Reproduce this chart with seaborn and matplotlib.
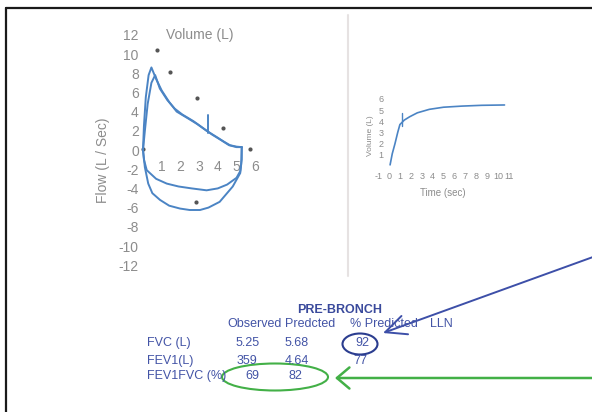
import matplotlib.pyplot as plt
import seaborn as sns
from matplotlib.patches import Ellipse, FancyArrowPatch
from matplotlib.lines import Line2D

sns.set_theme(style="white")
plt.rcParams["font.family"] = ["Liberation Sans", "DejaVu Sans"]
plt.rcParams["axes.unicode_minus"] = False

W, H = 592, 412

# flow-volume loop (volume L, flow L/s)
exp1_vol = [0, 0.05, 0.15, 0.3, 0.45, 0.7, 1.0, 1.4, 1.8, 2.4, 2.9, 3.4, 3.9, 4.3, 4.65, 5.0, 5.28]
exp1_flow = [0, 2.5, 5.5, 7.8, 8.6, 7.4, 6.2, 5.0, 4.0, 3.3, 2.7, 2.0, 1.4, 0.9, 0.5, 0.35, 0.3]
exp2_vol = [0, 0.1, 0.25, 0.45, 0.65, 0.9, 1.3, 1.7, 2.1, 2.7, 3.2, 3.7, 4.2, 4.6, 5.0, 5.28]
exp2_flow = [0, 2.0, 4.8, 7.0, 7.8, 6.4, 5.2, 4.3, 3.7, 3.0, 2.3, 1.6, 1.0, 0.5, 0.3, 0.3]
insp1_vol = [5.28, 5.28, 5.2, 5.0, 4.5, 4.0, 3.4, 2.6, 1.9, 1.27, 0.7, 0.2, 0.05, 0]
insp1_flow = [0.3, -1.0, -2.2, -2.9, -3.6, -4.0, -4.2, -4.0, -3.8, -3.5, -3.0, -2.1, -1.0, 0]
insp2_vol = [5.28, 5.25, 5.2, 4.8, 4.1, 3.5, 3.05, 2.5, 1.98, 1.4, 0.91, 0.5, 0.28, 0.1, 0]
insp2_flow = [0.3, -1.5, -2.4, -3.8, -5.4, -6.0, -6.25, -6.25, -6.1, -5.8, -5.2, -4.5, -3.5, -1.8, 0]
spike_vol = [3.5, 3.5]
spike_flow = [3.6, 1.8]
pred_vol = [0, 0.73, 1.44, 2.87, 4.3, 5.72, 2.84]
pred_flow = [0.1, 10.4, 8.1, 5.4, 2.26, 0.1, -5.4]
fv_yticks = [-12, -10, -8, -6, -4, -2, 0, 2, 4, 6, 8, 10, 12]
fv_xticks = [1, 2, 3, 4, 5, 6]

# volume-time curve
vt_time = [0.1, 0.3, 0.55, 0.8, 1.0, 1.4, 1.9, 2.6, 3.7, 5.0, 6.7, 8.5, 10.6]
vt_vol = [0.1, 1.1, 2.0, 3.0, 3.7, 4.1, 4.4, 4.75, 5.06, 5.25, 5.35, 5.42, 5.45]
vt_tick_time = [1.15, 1.15]
vt_tick_vol = [3.6, 4.7]
vt_xticks = list(range(-1, 12))
vt_yticks = [1, 2, 3, 4, 5, 6]

# spirometry table
row_labels = ["FVC (L)", "FEV1(L)", "FEV1FVC (%)"]
observed = ["5.25", "359", "69"]
predicted = ["5.68", "4.64", "82"]
pct_predicted = ["92", "77", ""]

LINE = "#4b84c4"
GRAY = "#8c8c8c"
TXT = "#4354a6"


def rect(x0, x1, y_top, y_bot):
    return [x0 / W, 1 - y_bot / H, (x1 - x0) / W, (y_bot - y_top) / H]


def bare_axes(ax, xpad, ypad, size):
    for s in ax.spines.values():
        s.set_visible(False)
    ax.spines["left"].set_position(("data", 0))
    ax.spines["bottom"].set_position(("data", 0))
    ax.tick_params(length=0, labelsize=size, labelcolor=GRAY)
    ax.tick_params(axis="x", pad=xpad)
    ax.tick_params(axis="y", pad=ypad)
    ax.set_xlabel("")
    ax.set_ylabel("")
    ax.patch.set_alpha(0)


fig = plt.figure(figsize=(W / 100, H / 100), dpi=100)

ov = fig.add_axes([0, 0, 1, 1])
ov.set_xlim(0, W)
ov.set_ylim(H, 0)
ov.axis("off")

# flow-volume panel
ax1 = fig.add_axes(rect(133.65, 264.55, 25.2, 274.8))
for vx, fy in [(exp1_vol, exp1_flow), (exp2_vol, exp2_flow), (insp1_vol, insp1_flow),
               (insp2_vol, insp2_flow), (spike_vol, spike_flow)]:
    sns.lineplot(x=vx, y=fy, sort=False, estimator=None, color=LINE, lw=1.4, ax=ax1)
sns.scatterplot(x=pred_vol, y=pred_flow, color="#555555", s=9, linewidth=0, ax=ax1)
ax1.set_xlim(-0.5, 6.5)
ax1.set_ylim(-13, 13)
ax1.set_xticks(fv_xticks)
ax1.set_yticks(fv_yticks)
bare_axes(ax1, 7, 3, 10)

# volume-time panel
ax2 = fig.add_axes(rect(372.65, 517.6, 92.1, 171.6))
sns.lineplot(x=vt_time, y=vt_vol, sort=False, estimator=None, color=LINE, lw=1.2, ax=ax2)
sns.lineplot(x=vt_tick_time, y=vt_tick_vol, sort=False, estimator=None, color=LINE, lw=1.0, ax=ax2)
ax2.set_xlim(-1.5, 11.8)
ax2.set_ylim(-0.5, 6.6)
ax2.set_xticks(vt_xticks)
ax2.set_yticks(vt_yticks)
bare_axes(ax2, 4, 4, 6.5)

# axis titles
ov.text(200, 35, "Volume (L)", color=GRAY, fontsize=10, ha="center", va="center")
ov.text(103, 160, "Flow (L / Sec)", color=GRAY, fontsize=10, rotation=90, ha="center", va="center")
ov.text(370, 136, "Volume (L)", color=GRAY, fontsize=6, rotation=90, ha="center", va="center")
ov.text(443, 193, "Time (sec)", color=GRAY, fontsize=7, ha="center", va="center")

# faint panel edge
ov.add_line(Line2D([348, 348], [15, 276], color="#e6e2e2", lw=1.5))

# table
ov.text(340, 310, "PRE-BRONCH", color="#3a4a9c", fontsize=9, fontweight="bold", ha="center", va="center")
for x, lab in [(227, "Observed"), (285, "Predcted"), (350, "% Predicted"), (430, "LLN")]:
    ov.text(x, 324, lab, color=TXT, fontsize=9, ha="left", va="center")
row_y = [343, 361, 376]
for i, y in enumerate(row_y):
    ov.text(147, y, row_labels[i], color=TXT, fontsize=9, ha="left", va="center")
    ov.text([248, 247, 252][i], y, observed[i], color=TXT, fontsize=9, ha="center", va="center")
    ov.text([297, 297, 295][i], y, predicted[i], color=TXT, fontsize=9, ha="center", va="center")
    ov.text([362, 360, 360][i], y, pct_predicted[i], color=TXT, fontsize=9, ha="center", va="center")

# annotations
ov.add_patch(Ellipse((360, 344), 35, 21, fill=False, ec="#2b3d8f", lw=1.5))
ov.add_patch(Ellipse((275, 377), 106, 27, fill=False, ec="#43b047", lw=1.5))
ov.add_patch(FancyArrowPatch((593, 257), (383, 333), arrowstyle="->,head_length=0.75,head_width=0.35",
                             mutation_scale=20, color="#3d4fa8", lw=1.4, shrinkA=0, shrinkB=0))
ov.add_patch(FancyArrowPatch((593, 378), (335, 378), arrowstyle="->,head_length=0.45,head_width=0.38",
                             mutation_scale=20, color="#43b047", lw=1.8, shrinkA=0, shrinkB=0))

# image frame
ov.add_line(Line2D([6, W], [8, 8], color="#1a1a1a", lw=1.6))
ov.add_line(Line2D([6, 6], [8, H], color="#1a1a1a", lw=1.6))

fig.savefig("out.png", dpi=100)
